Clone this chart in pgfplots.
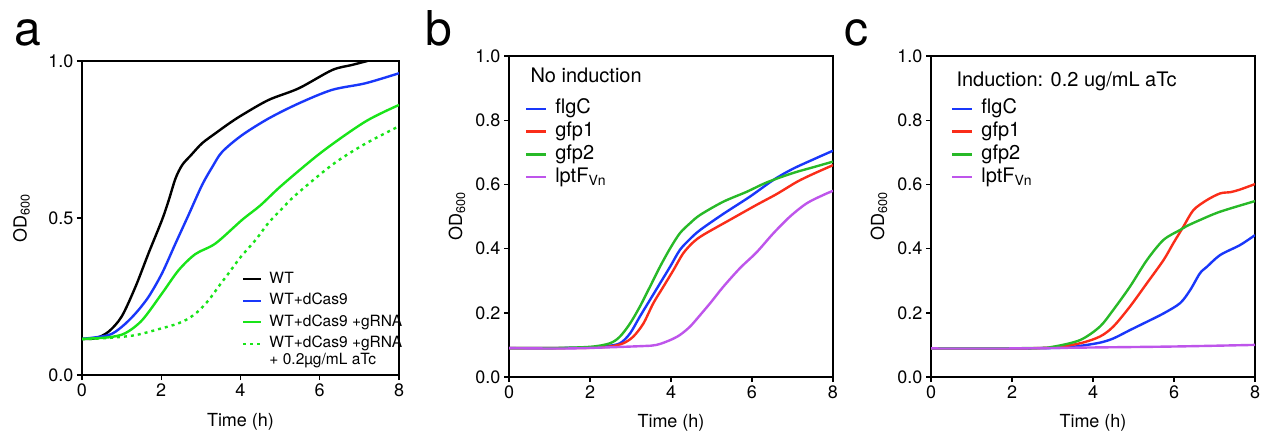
\documentclass[border=0pt]{standalone}
\usepackage{fontspec}
\setmainfont{TeX Gyre Heros}
\usepackage{pgfplots}
\pgfplotsset{compat=1.18}

\definecolor{cblue}{RGB}{25,55,250}
\definecolor{climegreen}{RGB}{25,228,25}
\definecolor{cred}{RGB}{250,45,25}
\definecolor{cgreen}{RGB}{40,185,40}
\definecolor{cpurple}{RGB}{190,85,235}

\newcommand{\tickfont}{\fontsize{18bp}{20bp}\selectfont}

\pgfplotsset{
  growth/.style={
    scale only axis,
    xmin=0, xmax=8, ymin=0, ymax=1,
    xtick={0,2,...,8},
    tick align=outside,
    tick pos=left,
    major tick length=5bp,
    axis line style={line width=1.5bp},
    every tick/.style={line width=1.4bp, black},
    tick label style={font=\tickfont},
    label style={font=\tickfont},
    /pgf/number format/assume math mode=true,
    yticklabel style={/pgf/number format/fixed,
      /pgf/number format/fixed zerofill,
      /pgf/number format/precision=1},
    xlabel={Time (h)},
    ylabel={OD\textsubscript{600}},
    legend cell align=left,
    legend image code/.code={\draw[#1] (0bp,0bp) -- (20bp,0bp);},
    every axis plot/.append style={line width=2.4bp, smooth, tension=0.5},
  },
  bclegend/.style={
    legend style={draw=none, fill=none, inner sep=0pt, outer sep=0pt,
      column sep=8bp, row sep=3.7bp,
      font=\fontsize{20bp}{22bp}\selectfont,
      nodes={inner sep=0pt, text height=14.5bp, text depth=4.5bp},
      anchor=north west},
  },
}

\begin{document}
\begin{tikzpicture}
\useasboundingbox (0,0) rectangle (1266bp,-434bp);

\node[anchor=base west, font=\fontsize{48bp}{50bp}\selectfont] at (11bp,-45bp) {a};
\node[anchor=base west, font=\fontsize{48bp}{50bp}\selectfont] at (422bp,-45bp) {b};
\node[anchor=base west, font=\fontsize{48bp}{50bp}\selectfont] at (841bp,-45bp) {c};

% ---------------- panel a ----------------
\begin{axis}[growth,
  at={(82bp,-375bp)}, anchor=south west,
  width=317bp, height=314bp,
  ytick={0,0.5,1},
  xlabel style={at={(axis description cs:0.5,0)}, anchor=base, yshift=-51bp},
  ylabel style={at={(axis description cs:-0.1745,0.5)}, anchor=base},
  legend image code/.code={\draw[#1] (0bp,0bp) -- (18bp,0bp);},
  legend style={draw=none, fill=none, inner sep=0pt, outer sep=0pt,
    column sep=7bp, row sep=6.5bp,
    font=\fontsize{15.5bp}{17bp}\selectfont,
    nodes={inner sep=0pt, text height=11.5bp, text depth=3.5bp},
    at={(rel axis cs:0.505,0.3287)}, anchor=north west},
]
\addplot[black] coordinates {
(0,0.115) (0.34,0.117) (0.67,0.138) (1.0,0.186) (1.35,0.281) (1.68,0.388)
(2.02,0.494) (2.19,0.557) (2.36,0.626) (2.53,0.669) (2.75,0.700) (3.03,0.738)
(3.37,0.770) (3.7,0.800) (4.04,0.828) (4.71,0.876) (5.47,0.913) (6.31,0.971)
(6.8,0.987) (7.2,1.0)};
\addlegendentry{WT}
\addplot[cblue] coordinates {
(0,0.115) (0.67,0.127) (1.01,0.154) (1.35,0.196) (1.68,0.249) (2.02,0.324)
(2.36,0.419) (2.69,0.510) (3.03,0.605) (3.3,0.665) (3.54,0.711) (4.04,0.764)
(4.71,0.817) (5.47,0.865) (6.31,0.908) (7.15,0.929) (8,0.961)};
\addlegendentry{WT+dCas9}
\addplot[climegreen] coordinates {
(0,0.115) (0.67,0.120) (1.09,0.133) (1.52,0.175) (2.02,0.260) (2.44,0.334)
(2.86,0.385) (3.37,0.419) (4.04,0.494) (4.5,0.540) (5.05,0.605) (6.06,0.711)
(7.15,0.807) (8,0.860)};
\addlegendentry{WT+dCas9 +gRNA}
\addplot[climegreen, dash pattern=on 3bp off 4bp] coordinates {
(0,0.114) (0.67,0.118) (1.35,0.127) (2.02,0.149) (2.4,0.163) (2.69,0.180)
(2.95,0.205) (3.2,0.239) (3.45,0.282) (3.7,0.324) (4.0,0.375) (4.38,0.430)
(4.71,0.485) (5.05,0.530) (5.39,0.573) (6.31,0.669) (7.1,0.733) (7.9,0.786)
(8,0.792)};
\addlegendentry{\begin{tabular}[t]{@{}l@{}}WT+dCas9 +gRNA\\+ 0.2µg/mL aTc\end{tabular}}
\end{axis}

% ---------------- panel b ----------------
\begin{axis}[growth, bclegend,
  at={(509bp,-377bp)}, anchor=south west,
  width=324bp, height=321bp,
  ytick={0,0.2,...,1.0},
  xlabel style={at={(axis description cs:0.5,0)}, anchor=base, yshift=-50bp},
  ylabel style={at={(axis description cs:-0.145,0.5)}, anchor=base},
  legend style={at={(rel axis cs:0.049,0.8645)}},
]
\addplot[cblue] coordinates {
(0,0.090) (1,0.090) (2.0,0.092) (2.4,0.096) (2.74,0.105) (2.99,0.136)
(3.23,0.188) (3.48,0.240) (3.73,0.292) (3.98,0.344) (4.22,0.396) (4.47,0.430)
(4.72,0.458) (5.29,0.508) (5.95,0.562) (6.53,0.614) (7.0,0.648) (7.5,0.677)
(8,0.705)};
\addlegendentry{flgC}
\addplot[cred] coordinates {
(0,0.090) (1,0.090) (2.0,0.091) (2.5,0.095) (2.82,0.105) (3.07,0.126)
(3.32,0.167) (3.56,0.229) (3.81,0.281) (4.06,0.333) (4.3,0.385) (4.55,0.420)
(4.8,0.443) (5.46,0.490) (6.11,0.536) (6.61,0.570) (7.11,0.608) (7.5,0.632)
(8,0.660)};
\addlegendentry{gfp1}
\addplot[cgreen] coordinates {
(0,0.090) (1,0.090) (2.0,0.094) (2.49,0.105) (2.74,0.126) (2.99,0.167)
(3.23,0.219) (3.48,0.281) (3.73,0.344) (3.98,0.401) (4.22,0.448) (4.47,0.479)
(4.72,0.505) (5.29,0.546) (5.87,0.577) (6.36,0.606) (7.0,0.635) (7.5,0.653)
(8,0.671)};
\addlegendentry{gfp2}
\addplot[cpurple] coordinates {
(0,0.090) (1.5,0.089) (3.23,0.096) (3.64,0.100) (3.98,0.115) (4.22,0.131)
(4.47,0.157) (4.72,0.193) (5.0,0.235) (5.29,0.281) (5.71,0.340) (6.11,0.388)
(6.53,0.448) (6.94,0.500) (7.35,0.541) (7.76,0.567) (8,0.580)};
\addlegendentry{lptF\textsubscript{Vn}}
\node[anchor=base west, font=\fontsize{20bp}{22bp}\selectfont]
  at (rel axis cs:0.0556,0.916) {No induction};
\end{axis}

% ---------------- panel c ----------------
\begin{axis}[growth, bclegend,
  at={(931bp,-377bp)}, anchor=south west,
  width=324bp, height=321bp,
  ytick={0,0.2,...,1.0},
  xlabel style={at={(axis description cs:0.5,0)}, anchor=base, yshift=-50bp},
  ylabel style={at={(axis description cs:-0.145,0.5)}, anchor=base},
  legend style={at={(rel axis cs:0.0617,0.8645)}},
]
\addplot[cblue] coordinates {
(0,0.089) (2,0.089) (3.2,0.091) (3.68,0.097) (4.17,0.107) (4.5,0.120)
(4.91,0.146) (5.33,0.172) (5.74,0.198) (6.15,0.230) (6.4,0.271) (6.64,0.323)
(6.81,0.343) (7.14,0.380) (7.63,0.411) (8,0.442)};
\addlegendentry{flgC}
\addplot[cred] coordinates {
(0,0.089) (2,0.089) (3.0,0.092) (3.68,0.105) (4.17,0.126) (4.5,0.157)
(4.91,0.219) (5.33,0.292) (5.74,0.364) (5.98,0.416) (6.23,0.468) (6.48,0.520)
(6.81,0.551) (7.14,0.572) (7.4,0.576) (7.63,0.584) (8,0.601)};
\addlegendentry{gfp1}
\addplot[cgreen] coordinates {
(0,0.089) (2.5,0.090) (3.0,0.094) (3.68,0.115) (4.17,0.157) (4.5,0.209)
(4.91,0.281) (5.33,0.364) (5.74,0.427) (6.15,0.458) (6.31,0.470) (6.64,0.489)
(7.14,0.515) (8,0.548)};
\addlegendentry{gfp2}
\addplot[cpurple] coordinates {
(0,0.089) (2,0.089) (4,0.092) (6,0.095) (8,0.100)};
\addlegendentry{lptF\textsubscript{Vn}}
\node[anchor=base west, font=\fontsize{20bp}{22bp}\selectfont]
  at (rel axis cs:0.068,0.9065) {Induction: 0.2 ug/mL aTc};
\end{axis}
\end{tikzpicture}
\end{document}
